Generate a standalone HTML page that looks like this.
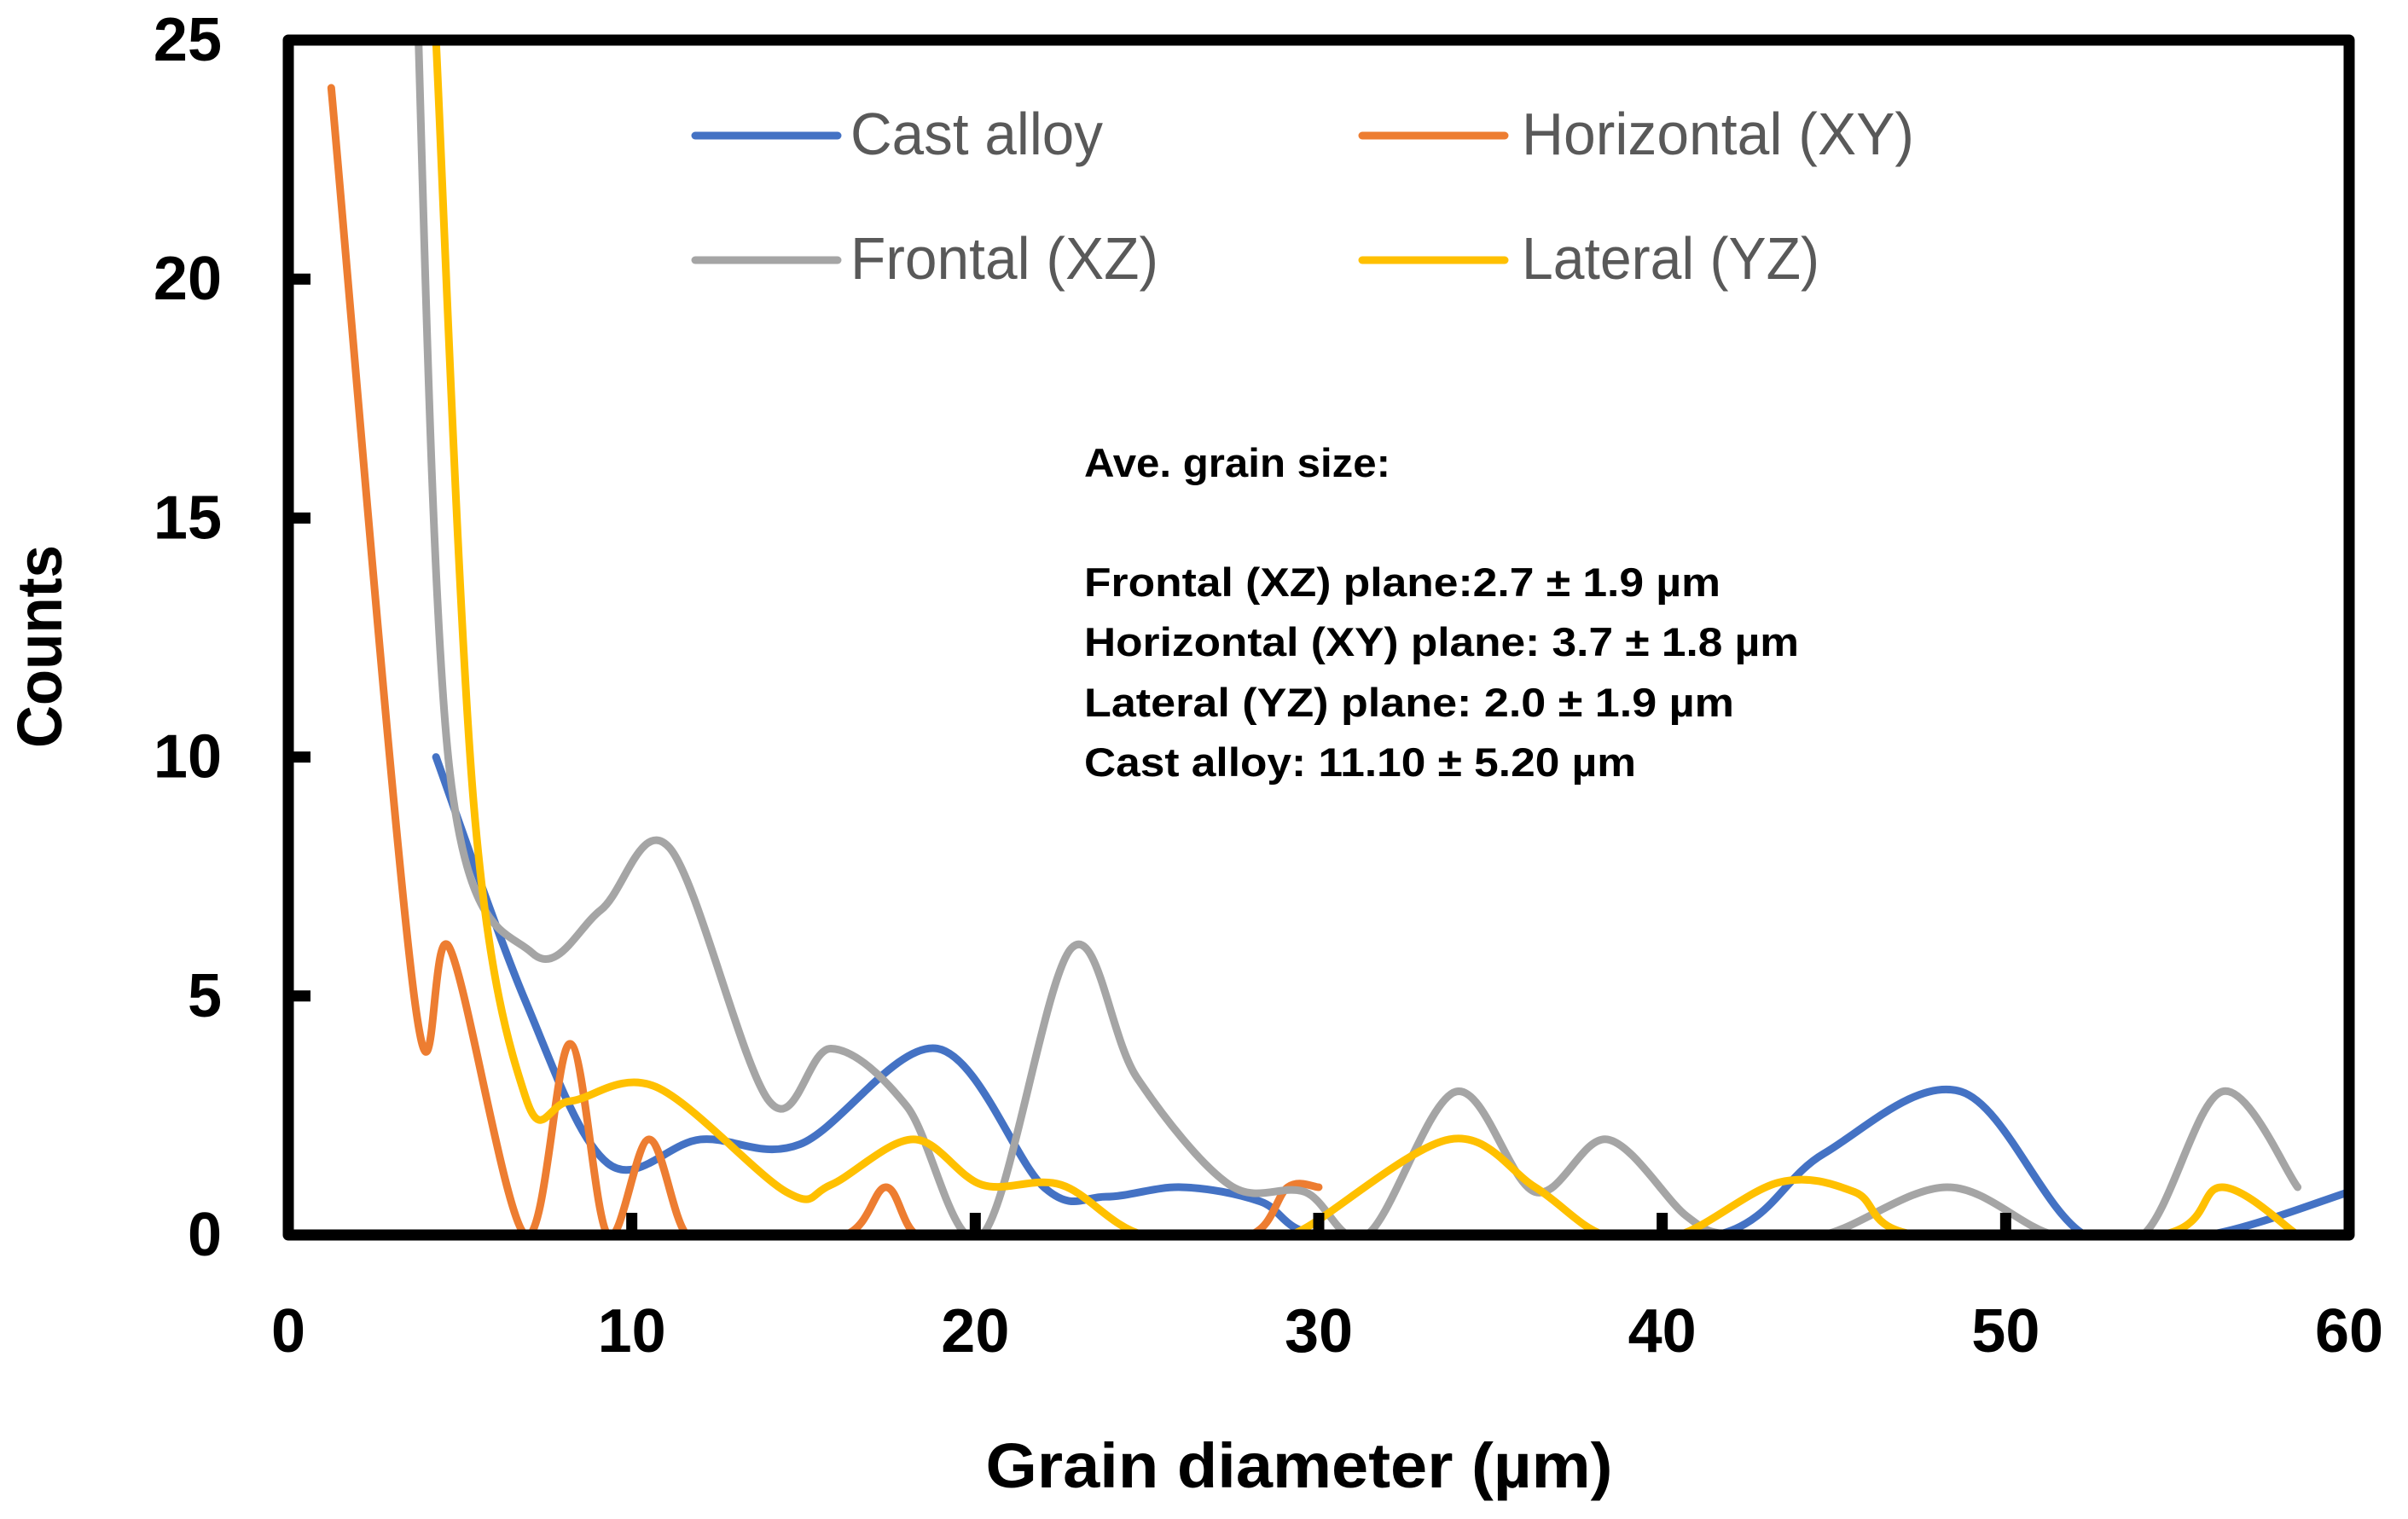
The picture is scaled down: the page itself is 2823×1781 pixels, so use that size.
<!DOCTYPE html>
<html><head><meta charset="utf-8">
<style>
html,body{margin:0;padding:0;background:#fff;}
svg{display:block;}
text{font-family:"Liberation Sans",sans-serif;}
</style></head>
<body>
<svg id="chart" width="2823" height="1781" viewBox="0 0 2823 1781" xmlns="http://www.w3.org/2000/svg">
<defs><clipPath id="plotclip"><rect x="338" y="47" width="2416" height="1401"/></clipPath></defs>
<g id="series" clip-path="url(#plotclip)"></g>
<rect x="338" y="47" width="2416" height="1401" fill="none" stroke="#000" stroke-width="13" stroke-linejoin="round"/>
<g id="ticks"></g>
<g font-size="70" fill="#595959">
  <line x1="815" y1="159" x2="982" y2="159" stroke="#4472C4" stroke-width="9" stroke-linecap="round"/>
  <text x="997" y="181" textLength="296" lengthAdjust="spacingAndGlyphs">Cast alloy</text>
  <line x1="1597" y1="159" x2="1764" y2="159" stroke="#ED7D31" stroke-width="9" stroke-linecap="round"/>
  <text x="1784" y="181" textLength="460" lengthAdjust="spacingAndGlyphs">Horizontal (XY)</text>
  <line x1="815" y1="305" x2="982" y2="305" stroke="#A5A5A5" stroke-width="9" stroke-linecap="round"/>
  <text x="997" y="327" textLength="361" lengthAdjust="spacingAndGlyphs">Frontal (XZ)</text>
  <line x1="1597" y1="305" x2="1764" y2="305" stroke="#FFC000" stroke-width="9" stroke-linecap="round"/>
  <text x="1784" y="327" textLength="349" lengthAdjust="spacingAndGlyphs">Lateral (YZ)</text>
</g>
<g font-size="47" font-weight="bold" fill="#000">
  <text x="1271" y="559" textLength="359" lengthAdjust="spacingAndGlyphs">Ave. grain size:</text>
  <text x="1271" y="699" textLength="746" lengthAdjust="spacingAndGlyphs">Frontal (XZ) plane:2.7 ± 1.9 µm</text>
  <text x="1271" y="769" textLength="838" lengthAdjust="spacingAndGlyphs">Horizontal (XY) plane: 3.7 ± 1.8 µm</text>
  <text x="1271" y="840" textLength="762" lengthAdjust="spacingAndGlyphs">Lateral (YZ) plane: 2.0 ±  1.9 µm</text>
  <text x="1271" y="910" textLength="647" lengthAdjust="spacingAndGlyphs">Cast alloy: 11.10 ± 5.20 µm</text>
</g>
<text x="1523" y="1744" font-size="74" font-weight="bold" text-anchor="middle" textLength="735" lengthAdjust="spacingAndGlyphs">Grain diameter (µm)</text>
<text transform="translate(72,758) rotate(-90)" font-size="74" font-weight="bold" text-anchor="middle" textLength="238" lengthAdjust="spacingAndGlyphs">Counts</text>
</svg>
<script>
const xTicks = [0,10,20,30,40,50,60];
const yTicks = [0,5,10,15,20,25];
const castX = [4.3,6.9,9.3,12,14.9,18.9,22,23.8,26,28.3,30,35,41.6,44.7,48.7,52.3,55.9,60];
const castY = [10,4.9,1.5,2,1.9,3.9,1,0.8,1,0.7,0,0,0,1.7,3,0,0,0.9];
const horizX = [1.25,3.7,4.7,6.9,8.2,9.3,10.5,11.6,13,16.2,17.4,18.3,20,25,28,29.1,30];
const horizY = [24,4.8,6,0,4,0,2,0,0,0,1,0,0,0,0,1,1];
const frontX = [3.7,4.7,7.1,9.1,11.1,14,15.8,18,20.2,22.8,24.7,27.4,29.6,31.4,34,36.3,38.4,40.7,42,44.7,48.3,51.4,54,56.3,58.5];
const frontY = [27,9.7,5.9,6.8,8.1,2.8,3.9,2.7,0,6,3.3,1.05,0.9,0,3,0.9,2,0.4,0,0,1,0,0,3,1];
const latX = [4.3,5.4,6.9,8.2,10.7,14.5,15.8,18.2,20.2,22.5,24.9,28.3,29.5,33.8,36.3,38.3,40.5,43.4,45.6,47.4,54.5,56.3,58.5];
const latY = [25,9,2.9,2.8,3.1,0.9,1.05,2,1.05,1.05,0,0,0.1,2,1,0,0,1.1,0.9,0,0,1,0];

const X0=338, X1=2754, Y0=1448, Y1=47;
function sx(v){return X0+(v-0)/(60-0)*(X1-X0);}
function sy(v){return Y0-(v-0)/(25-0)*(Y0-Y1);}
const NS='http://www.w3.org/2000/svg';
const tickG=document.getElementById('ticks');
const serG=document.getElementById('series');

xTicks.forEach(t=>{
  const lb=document.createElementNS(NS,'text');
  
  
  lb.setAttribute('x',sx(t)); lb.setAttribute('y',1585);
  lb.setAttribute('font-size','72'); lb.setAttribute('font-weight','bold');
  lb.setAttribute('text-anchor','middle'); lb.textContent=t;
  tickG.appendChild(lb);
  if(t>0&&t<60){
    const m=document.createElementNS(NS,'line');
    
    
    m.setAttribute('x1',sx(t)); m.setAttribute('x2',sx(t));
    m.setAttribute('y1',Y0); m.setAttribute('y2',Y0-26);
    m.setAttribute('stroke','#000'); m.setAttribute('stroke-width','13');
    tickG.appendChild(m);
  }
});
yTicks.forEach(t=>{
  const lb=document.createElementNS(NS,'text');
  
  
  lb.setAttribute('x',260); lb.setAttribute('y',sy(t)+24);
  lb.setAttribute('font-size','72'); lb.setAttribute('font-weight','bold');
  lb.setAttribute('text-anchor','end'); lb.textContent=t;
  tickG.appendChild(lb);
  if(t>0&&t<25){
    const m=document.createElementNS(NS,'line');
    
    
    m.setAttribute('x1',X0); m.setAttribute('x2',X0+26);
    m.setAttribute('y1',sy(t)); m.setAttribute('y2',sy(t));
    m.setAttribute('stroke','#000'); m.setAttribute('stroke-width','13');
    tickG.appendChild(m);
  }
});

function smoothPath(xs,ys){
  const p=xs.map((x,i)=>[sx(x),sy(ys[i])]);
  let d='M'+p[0][0]+','+p[0][1];
  const k=1/3;
  for(let i=0;i<p.length-1;i++){
    const a=p[i-1]||p[i], b=p[i], c=p[i+1], e=p[i+2]||c;
    const c1=[b[0]+(c[0]-a[0])*k/2, b[1]+(c[1]-a[1])*k/2];
    const c2=[c[0]-(e[0]-b[0])*k/2, c[1]-(e[1]-b[1])*k/2];
    d+=' C'+c1[0]+','+c1[1]+' '+c2[0]+','+c2[1]+' '+c[0]+','+c[1];
  }
  return d;
}
function drawSeries(name,xs,ys,color){
  const path=document.createElementNS(NS,'path');
  
  
  path.setAttribute('d',smoothPath(xs,ys));
  path.setAttribute('fill','none');
  path.setAttribute('stroke',color);
  path.setAttribute('stroke-width','9');
  path.setAttribute('stroke-linecap','round');
  path.setAttribute('stroke-linejoin','round');
  serG.appendChild(path);
}
drawSeries('series-cast-alloy',castX,castY,'#4472C4');
drawSeries('series-horizontal-xy',horizX,horizY,'#ED7D31');
drawSeries('series-frontal-xz',frontX,frontY,'#A5A5A5');
drawSeries('series-lateral-yz',latX,latY,'#FFC000');
</script>
</body></html>
